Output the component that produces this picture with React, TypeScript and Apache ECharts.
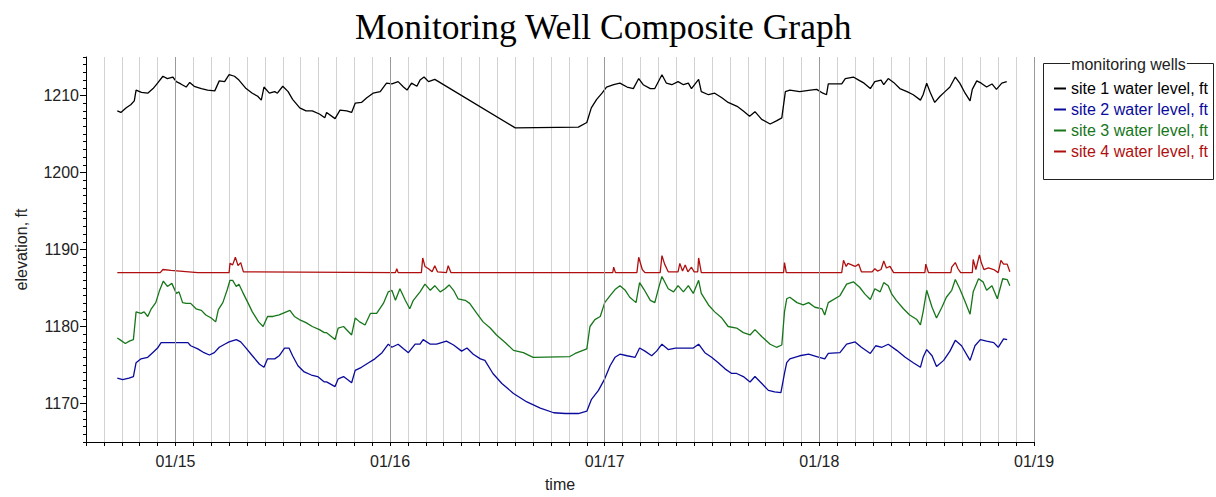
import React, { useEffect, useRef } from "react";
import * as echarts from "echarts";

// hours since 01/14 00:00, elevation ft
const site1: [number, number][] = [
  [17.5, 1208.0], [17.9, 1207.8], [18.5, 1208.4], [19.0, 1208.8], [19.4, 1209.3], [19.6, 1210.7],
  [20.2, 1210.4], [20.9, 1210.3], [21.5, 1210.9], [22.0, 1211.6], [22.6, 1212.5], [23.1, 1212.2],
  [23.7, 1212.4], [24.1, 1211.8], [24.6, 1211.5], [25.2, 1211.1], [25.6, 1211.7], [26.1, 1211.2],
  [26.9, 1210.9], [27.6, 1210.7], [28.4, 1210.6], [28.9, 1211.9], [29.5, 1211.8], [30.0, 1212.7],
  [30.6, 1212.5], [31.1, 1212.0], [31.9, 1210.9], [32.6, 1210.3], [33.2, 1209.9], [33.6, 1209.4],
  [33.9, 1211.1], [34.5, 1210.3], [35.1, 1210.5], [35.4, 1210.3], [36.0, 1211.2], [36.6, 1210.5],
  [37.1, 1209.5], [37.9, 1208.4], [38.6, 1208.0], [39.3, 1208.0], [40.1, 1207.6], [40.7, 1207.1],
  [40.9, 1207.8], [41.85, 1207.0], [42.4, 1208.1], [43.15, 1208.0], [43.7, 1207.8], [44.1, 1209.0],
  [44.8, 1209.1], [45.4, 1209.7], [46.1, 1210.3], [46.9, 1210.5], [47.6, 1211.6], [48.2, 1211.5],
  [48.9, 1211.8], [49.5, 1211.1], [49.9, 1210.7], [50.4, 1211.6], [51.0, 1211.2], [51.35, 1212.0],
  [51.8, 1212.4], [52.3, 1211.8], [53.0, 1212.1], [62.0, 1205.8], [69.05, 1205.9], [70.0, 1206.5],
  [70.5, 1208.4], [71.1, 1209.5], [71.7, 1210.3], [72.2, 1211.1], [73.0, 1211.4], [73.7, 1211.6],
  [74.5, 1211.1], [75.2, 1210.9], [75.8, 1212.2], [76.3, 1211.4], [77.1, 1210.9], [77.6, 1210.9],
  [78.4, 1212.7], [78.9, 1211.6], [79.5, 1211.4], [80.2, 1211.8], [80.8, 1211.4], [81.35, 1211.6],
  [81.7, 1210.9], [82.5, 1212.1], [82.8, 1210.5], [83.6, 1210.1], [84.3, 1210.3], [85.1, 1209.7],
  [85.8, 1209.1], [86.8, 1208.6], [87.5, 1208.0], [88.2, 1207.3], [88.8, 1207.9], [89.55, 1206.9],
  [90.5, 1206.3], [91.2, 1206.7], [91.8, 1207.1], [92.2, 1210.5], [92.7, 1210.7], [93.8, 1210.5],
  [95.0, 1210.7], [95.7, 1210.8], [96.4, 1210.3], [96.8, 1210.1], [97.0, 1211.5], [98.5, 1211.5],
  [98.9, 1212.2], [99.8, 1212.4], [100.4, 1212.0], [101.0, 1211.6], [101.7, 1210.9], [102.2, 1211.8],
  [102.9, 1212.0], [103.2, 1211.4], [103.7, 1212.2], [104.3, 1211.7], [105.0, 1210.9], [105.8, 1210.5],
  [106.5, 1210.1], [107.3, 1209.4], [107.6, 1210.1], [108.0, 1211.6], [108.4, 1210.4], [108.9, 1209.1],
  [109.5, 1209.9], [110.05, 1210.5], [110.6, 1211.1], [111.2, 1212.4], [111.7, 1211.6], [112.3, 1210.3],
  [112.85, 1209.3], [113.1, 1210.8], [113.6, 1211.9], [114.1, 1211.6], [114.7, 1211.1], [115.3, 1211.5],
  [115.8, 1210.8], [116.4, 1211.6], [116.95, 1211.8],
];

const site2: [number, number][] = [
  [17.5, 1173.3], [18.1, 1173.1], [18.8, 1173.3], [19.3, 1173.5], [19.6, 1175.3], [20.15, 1175.8],
  [20.9, 1176.0], [21.45, 1176.6], [22.0, 1177.2], [22.4, 1177.9], [25.4, 1177.9], [25.7, 1177.5],
  [26.5, 1177.1], [27.2, 1176.6], [27.8, 1176.3], [28.35, 1176.6], [28.9, 1177.3], [29.5, 1177.7],
  [30.0, 1178.0], [30.8, 1178.3], [31.3, 1178.0], [31.9, 1177.2], [32.6, 1176.2], [33.4, 1175.1],
  [33.9, 1174.7], [34.3, 1175.8], [35.1, 1175.8], [35.6, 1176.2], [36.2, 1177.2], [36.7, 1177.2],
  [37.1, 1176.2], [37.7, 1174.9], [38.4, 1174.1], [39.2, 1173.7], [39.9, 1173.5], [40.65, 1172.8],
  [40.9, 1172.8], [41.85, 1172.2], [42.2, 1173.2], [42.8, 1173.5], [43.7, 1172.7], [44.1, 1174.3],
  [44.8, 1174.7], [45.6, 1175.3], [46.3, 1175.8], [47.1, 1176.6], [47.8, 1177.7], [48.2, 1177.3],
  [48.9, 1177.7], [49.5, 1177.1], [50.05, 1176.6], [50.8, 1177.7], [51.35, 1177.7], [51.7, 1178.3],
  [52.5, 1177.7], [53.2, 1177.7], [54.3, 1178.1], [55.1, 1177.6], [56.0, 1176.8], [56.6, 1177.2],
  [57.3, 1176.4], [58.1, 1175.8], [58.6, 1175.6], [59.5, 1173.9], [60.5, 1172.6], [61.8, 1171.3],
  [63.3, 1170.2], [64.8, 1169.4], [66.3, 1168.8], [67.6, 1168.7], [69.05, 1168.7], [70.0, 1169.0],
  [70.5, 1170.5], [71.3, 1171.7], [72.0, 1173.2], [72.6, 1174.9], [73.15, 1176.0], [73.7, 1176.4],
  [74.5, 1176.2], [75.4, 1176.0], [75.9, 1177.2], [76.5, 1176.8], [77.25, 1176.2], [77.8, 1176.8],
  [78.4, 1177.7], [79.1, 1177.0], [79.9, 1177.2], [80.6, 1177.2], [81.35, 1177.2], [81.9, 1177.2],
  [82.5, 1177.7], [83.2, 1176.6], [83.95, 1176.0], [84.7, 1175.3], [85.45, 1174.5], [86.2, 1173.9],
  [86.75, 1173.9], [87.5, 1173.5], [88.25, 1172.8], [88.8, 1173.5], [89.4, 1172.8], [90.3, 1171.7],
  [91.0, 1171.5], [91.7, 1171.4], [92.1, 1173.9], [92.35, 1175.3], [92.7, 1175.8], [93.8, 1176.2],
  [94.8, 1176.4], [95.7, 1176.1], [96.6, 1175.8], [97.0, 1176.5], [98.3, 1176.6], [99.05, 1177.7],
  [100.0, 1178.0], [100.7, 1177.3], [101.7, 1176.5], [102.3, 1177.5], [103.0, 1177.3], [103.7, 1177.7],
  [104.65, 1176.9], [105.6, 1176.0], [106.5, 1175.3], [107.3, 1174.7], [107.6, 1176.0], [108.0, 1177.0],
  [108.6, 1176.2], [109.1, 1174.8], [109.9, 1175.6], [110.6, 1176.8], [111.2, 1178.2], [111.9, 1177.5],
  [112.85, 1175.6], [113.4, 1177.5], [114.0, 1178.3], [114.7, 1178.1], [115.5, 1177.9], [116.0, 1177.3],
  [116.6, 1178.4], [117.0, 1178.3],
];

const site3: [number, number][] = [
  [17.5, 1178.5], [17.9, 1178.2], [18.4, 1177.8], [18.85, 1178.1], [19.3, 1178.3], [19.6, 1181.9],
  [20.15, 1181.7], [20.5, 1181.9], [20.9, 1181.3], [21.3, 1182.3], [21.8, 1183.1], [22.2, 1184.6],
  [22.65, 1185.9], [23.1, 1185.2], [23.6, 1185.6], [24.1, 1184.3], [24.4, 1184.5], [24.8, 1183.1],
  [25.2, 1183.0], [25.7, 1183.0], [26.3, 1182.3], [26.9, 1182.1], [27.4, 1181.5], [28.0, 1181.1],
  [28.5, 1180.6], [28.8, 1182.2], [29.3, 1183.1], [29.8, 1184.8], [30.1, 1186.0], [30.4, 1186.0],
  [30.8, 1185.2], [31.1, 1185.5], [31.5, 1184.5], [32.1, 1183.1], [32.6, 1181.9], [33.3, 1180.6],
  [33.8, 1180.0], [34.3, 1181.3], [34.9, 1181.3], [35.6, 1181.5], [36.4, 1181.9], [36.8, 1182.1],
  [37.3, 1181.3], [37.85, 1180.9], [38.6, 1180.5], [39.3, 1180.0], [40.1, 1179.6], [40.65, 1179.2],
  [40.9, 1179.2], [41.85, 1178.3], [42.2, 1179.8], [42.8, 1180.0], [43.7, 1178.9], [44.1, 1181.1],
  [44.6, 1180.6], [45.2, 1180.2], [45.8, 1181.7], [46.5, 1181.7], [47.25, 1183.0], [47.8, 1184.5],
  [48.2, 1184.7], [48.6, 1183.4], [49.1, 1184.9], [49.7, 1183.4], [50.2, 1182.3], [50.6, 1183.4],
  [51.35, 1184.5], [51.9, 1185.5], [52.5, 1184.7], [53.0, 1185.3], [53.6, 1184.5], [54.15, 1184.9],
  [54.6, 1185.4], [55.1, 1184.7], [55.6, 1183.6], [56.4, 1183.4], [56.9, 1183.0], [57.7, 1181.7],
  [58.4, 1180.6], [59.2, 1179.8], [59.9, 1178.9], [60.9, 1177.9], [61.8, 1176.9], [62.9, 1176.6],
  [64.0, 1176.0], [68.1, 1176.1], [68.7, 1176.5], [70.0, 1177.1], [70.35, 1180.0], [70.9, 1180.9],
  [71.5, 1181.3], [72.0, 1183.1], [72.6, 1184.0], [73.15, 1184.8], [73.7, 1185.3], [74.3, 1184.7],
  [74.8, 1183.8], [75.5, 1183.1], [75.9, 1185.7], [76.4, 1184.8], [77.1, 1183.4], [77.6, 1183.1],
  [78.1, 1185.3], [78.4, 1186.5], [79.1, 1184.9], [79.7, 1184.5], [80.2, 1185.3], [80.8, 1184.5],
  [81.35, 1185.3], [81.9, 1184.3], [82.5, 1186.0], [82.8, 1184.3], [83.6, 1182.8], [84.3, 1181.9],
  [85.1, 1181.1], [85.8, 1180.0], [86.75, 1179.8], [87.5, 1179.2], [88.25, 1178.9], [88.8, 1179.6],
  [89.55, 1178.7], [90.5, 1177.7], [91.2, 1177.3], [91.8, 1177.6], [92.1, 1181.9], [92.35, 1183.6],
  [92.7, 1183.8], [93.5, 1183.1], [94.2, 1182.8], [94.8, 1183.1], [95.5, 1182.5], [96.3, 1182.3],
  [96.6, 1181.5], [97.0, 1183.1], [98.3, 1184.0], [99.05, 1185.5], [99.8, 1185.8], [100.5, 1185.1],
  [101.1, 1184.2], [101.7, 1183.5], [102.2, 1184.9], [102.8, 1184.5], [103.2, 1185.7], [103.7, 1185.3],
  [104.1, 1184.2], [104.6, 1183.4], [105.4, 1182.3], [106.1, 1181.5], [106.9, 1180.9], [107.3, 1180.2],
  [107.6, 1181.9], [108.0, 1184.7], [108.6, 1182.5], [109.1, 1181.1], [109.7, 1182.5], [110.2, 1183.8],
  [110.8, 1184.7], [111.2, 1186.1], [111.7, 1184.9], [112.3, 1183.2], [112.85, 1181.6], [113.2, 1184.5],
  [113.8, 1186.2], [114.3, 1185.8], [114.7, 1184.7], [115.3, 1185.3], [115.9, 1183.6], [116.5, 1186.2],
  [117.0, 1186.1], [117.3, 1185.3],
];

const site4: [number, number][] = [
  [17.5, 1187.0], [22.3, 1187.0], [22.6, 1187.4], [23.5, 1187.3], [25.5, 1187.1], [26.5, 1187.0],
  [30.0, 1187.0], [30.1, 1188.2], [30.4, 1188.0], [30.7, 1189.0], [31.0, 1187.9], [31.3, 1188.3],
  [31.6, 1187.1], [48.6, 1187.0], [48.75, 1187.5], [48.9, 1187.0], [51.5, 1187.0], [51.65, 1188.9],
  [51.9, 1187.8], [52.3, 1187.5], [52.7, 1187.1], [53.0, 1187.9], [53.3, 1187.1], [54.3, 1187.0],
  [54.5, 1187.9], [54.8, 1187.0], [72.9, 1187.0], [73.0, 1187.7], [73.2, 1187.0], [75.6, 1187.0],
  [75.8, 1189.0], [76.2, 1187.4], [76.5, 1187.0], [78.2, 1187.0], [78.4, 1189.2], [78.7, 1188.1],
  [79.1, 1187.1], [80.2, 1187.1], [80.4, 1188.2], [80.7, 1187.2], [81.0, 1188.0], [81.3, 1187.1],
  [81.7, 1187.7], [82.0, 1187.1], [82.4, 1187.1], [82.5, 1188.9], [82.8, 1187.0], [92.0, 1187.0],
  [92.1, 1188.3], [92.3, 1187.0], [98.5, 1187.0], [98.7, 1188.6], [99.0, 1187.8], [99.2, 1188.2],
  [99.6, 1188.0], [100.0, 1187.8], [100.4, 1188.1], [100.7, 1187.1], [101.9, 1187.1], [102.2, 1187.5],
  [102.5, 1187.2], [102.9, 1187.4], [103.2, 1188.5], [103.5, 1187.6], [103.9, 1187.8], [104.3, 1187.0],
  [107.8, 1187.0], [107.9, 1188.1], [108.2, 1187.0], [110.7, 1187.0], [110.8, 1187.7], [111.2, 1188.3],
  [111.5, 1187.5], [111.8, 1187.0], [113.1, 1187.0], [113.2, 1188.7], [113.5, 1187.4], [113.9, 1189.3],
  [114.1, 1188.3], [114.4, 1187.4], [114.9, 1187.6], [115.5, 1187.4], [116.0, 1187.0], [116.3, 1188.6],
  [116.6, 1188.1], [117.0, 1188.1], [117.3, 1187.1],
];

const seriesNames = [
  "site 1 water level, ft",
  "site 2 water level, ft",
  "site 3 water level, ft",
  "site 4 water level, ft",
];
const seriesColors = ["#000000", "#0a0a9c", "#17761a", "#b00f0f"];
const dayBoundaries = [24, 48, 72, 96, 120];
const dayLabels: Record<number, string> = { 24: "01/15", 48: "01/16", 72: "01/17", 96: "01/18", 120: "01/19" };
const yMajor = [1170, 1180, 1190, 1200, 1210];

export default function App() {
  const ref = useRef<HTMLDivElement>(null);
  useEffect(() => {
    if (!ref.current) return;
    const chart = echarts.init(ref.current, undefined, { renderer: "svg" });
    const font = "'Liberation Sans', Arial, sans-serif";
    const datasets = [site1, site2, site3, site4];
    chart.setOption({
      animation: false,
      backgroundColor: "#ffffff",
      title: {
        text: "Monitoring Well Composite Graph",
        left: 350,
        top: 4,
        textStyle: { fontFamily: "'Liberation Serif', serif", fontSize: 35.5, fontWeight: "normal", color: "#000" },
      },
      grid: { left: 86, right: 182, top: 57, bottom: 48 },
      legend: {
        orient: "vertical",
        left: 1049,
        top: 75,
        icon: "rect",
        itemWidth: 12,
        itemHeight: 2,
        itemGap: 4,
        selectedMode: false,
        textStyle: { fontFamily: font, fontSize: 16, lineHeight: 17 },
        data: seriesNames.map((n, i) => ({ name: n, textStyle: { color: seriesColors[i] } })),
      },
      xAxis: [
        {
          type: "value",
          min: 14,
          max: 120,
          interval: 2,
          name: "time",
          nameLocation: "middle",
          nameGap: 34,
          nameTextStyle: { fontFamily: font, fontSize: 16, color: "#222" },
          axisLine: { lineStyle: { color: "#000", width: 1 } },
          axisTick: { show: true, length: 4, lineStyle: { color: "#000" } },
          axisLabel: {
            fontFamily: font,
            fontSize: 16,
            color: "#222",
            margin: 11,
            formatter: (v: number) => dayLabels[v] ?? "",
          },
          splitLine: { show: true, lineStyle: { color: "#d2d2d2", width: 1 } },
        },
      ],
      yAxis: [
        {
          type: "value",
          min: 1165,
          max: 1215,
          interval: 1,
          name: "elevation, ft",
          nameLocation: "middle",
          nameGap: 57,
          nameTextStyle: { fontFamily: font, fontSize: 16, color: "#222" },
          axisLine: { show: true, lineStyle: { color: "#000", width: 1 } },
          axisTick: { show: true, length: 3, lineStyle: { color: "#000" } },
          axisLabel: {
            fontFamily: font,
            fontSize: 16,
            color: "#222",
            margin: 7,
            formatter: (v: number) => (yMajor.indexOf(v) >= 0 ? String(v) : ""),
          },
          splitLine: { show: false },
        },
        {
          type: "value",
          min: 1165,
          max: 1215,
          position: "left",
          axisLine: { show: false },
          axisTick: { show: true, length: 6, customValues: yMajor, lineStyle: { color: "#000" } },
          axisLabel: { show: false },
          splitLine: { show: false },
        },
      ],
      series: [
        {
          type: "line",
          data: [],
          z: 1,
          silent: true,
          markLine: {
            silent: true,
            symbol: ["none", "none"],
            label: { show: false },
            lineStyle: { color: "#9a9a9a", type: "solid", width: 1 },
            data: dayBoundaries.map((d) => ({ xAxis: d })),
          },
        },
        ...datasets.map((d, i) => ({
          name: seriesNames[i],
          type: "line",
          data: d,
          showSymbol: false,
          symbol: "none",
          z: 3,
          lineStyle: { color: seriesColors[i], width: 1.3 },
          itemStyle: { color: seriesColors[i] },
        })),
      ],
      graphic: [
        {
          type: "rect",
          shape: { x: 1043.5, y: 63.5, width: 170, height: 116 },
          style: { fill: "none", stroke: "#222", lineWidth: 1 },
          silent: true,
        },
        {
          type: "text",
          x: 1128.5,
          y: 64,
          style: {
            text: "monitoring wells",
            fontFamily: font,
            fontSize: 16,
            fill: "#222",
            align: "center",
            verticalAlign: "middle",
            backgroundColor: "#fff",
            padding: [0, 1],
          },
          silent: true,
        },
      ],
    });
    return () => chart.dispose();
  }, []);
  return (
    <div
      ref={ref}
      style={{ position: "absolute", left: 0, top: 0, width: 1216, height: 497, background: "#fff" }}
    />
  );
}
